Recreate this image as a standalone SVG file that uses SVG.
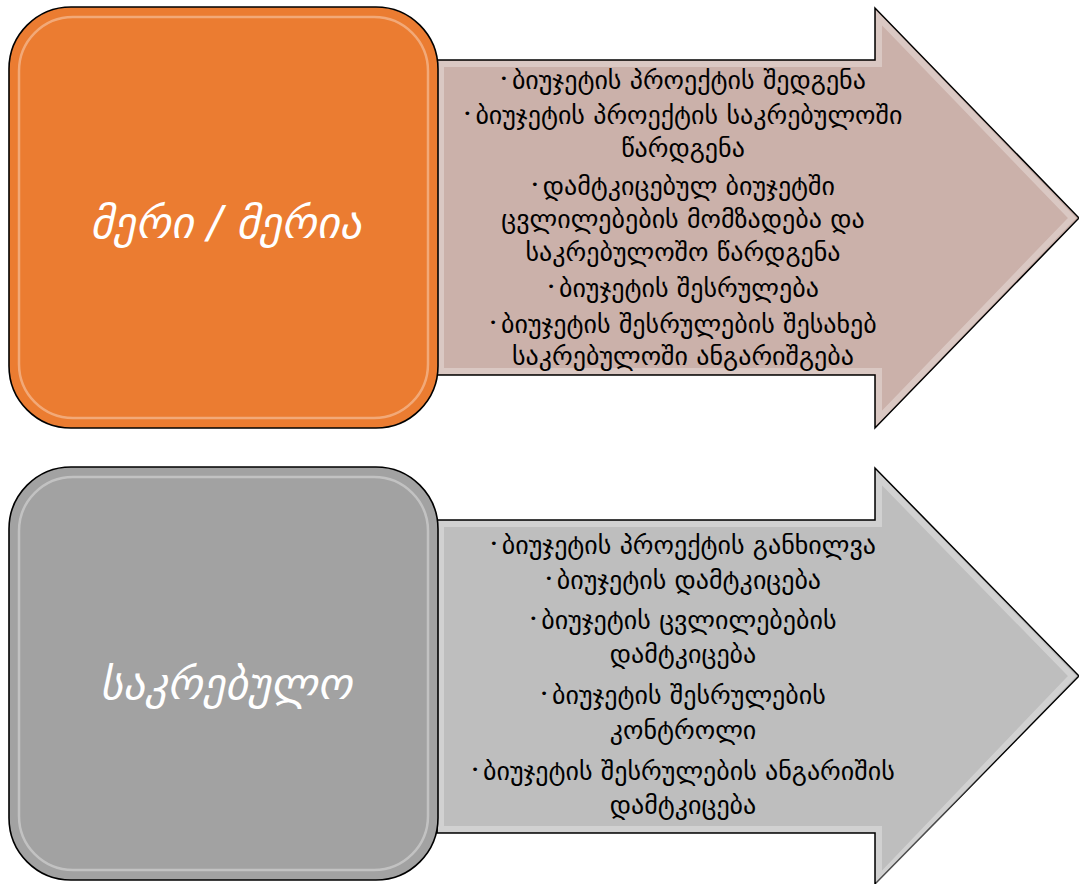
<svg xmlns="http://www.w3.org/2000/svg" width="1079" height="884" viewBox="0 0 1079 884">
<style>
.arrow{stroke:#000;stroke-width:1.5;stroke-linejoin:miter}
.bevel{fill:none;stroke:#ffffff;stroke-opacity:0.3;stroke-width:6}
.box{stroke:#000;stroke-width:1.6}
.hl{fill:none;stroke:#ffffff;stroke-width:2.5;stroke-opacity:0.35}
.title{font-family:"DejaVu Sans",sans-serif;font-style:italic;font-size:44px;fill:#fff;text-anchor:middle}
.item{font-family:"DejaVu Sans",sans-serif;font-size:26px;fill:#000;text-anchor:middle}
.b{font-size:13px}
</style>
<rect width="1079" height="884" fill="#fff"/>
<g id="connectors">
<g id="arrow-top">
<polygon class="arrow" fill="#CBB1AA" points="437,60 875,60 875,8 1079,218 875,428 875,375 437,375"/>
<polygon class="bevel" points="441,64 879,64 879,18 1072,218 879,418 879,371 441,371"/>
</g>
<g id="arrow-bottom">
<polygon class="arrow" fill="#BEBEBE" points="437,520 875,520 875,468 1079,676 875,884 875,833 437,833"/>
<polygon class="bevel" points="441,524 879,524 879,478 1072,676 879,878 879,829 441,829"/>
</g>
</g>
<g id="node-meri">
<rect class="box" x="9" y="7" width="429" height="421" rx="62" fill="#EB7C31"/>
<rect class="hl" x="19" y="17" width="409" height="401" rx="54"/>
<text class="title" x="226" y="238">მერი / მერია</text>
</g>
<g id="node-sakrebulo">
<rect class="box" x="9" y="467" width="429" height="413" rx="62" fill="#A2A2A2"/>
<rect class="hl" x="19" y="477" width="409" height="393" rx="54"/>
<text class="title" x="226" y="699">საკრებულო</text>
</g>
<g id="text-top">
<text class="item" x="683" y="89"><tspan class="b" dy="-6">• </tspan><tspan dy="6">ბიუჯეტის პროექტის შედგენა</tspan></text>
<text class="item" x="683" y="124"><tspan class="b" dy="-6">• </tspan><tspan dy="6">ბიუჯეტის პროექტის საკრებულოში</tspan></text>
<text class="item" x="683" y="157">წარდგენა</text>
<text class="item" x="683" y="195"><tspan class="b" dy="-6">• </tspan><tspan dy="6">დამტკიცებულ ბიუჯეტში</tspan></text>
<text class="item" x="683" y="228">ცვლილებების მომზადება და</text>
<text class="item" x="683" y="261">საკრებულოშო წარდგენა</text>
<text class="item" x="683" y="297"><tspan class="b" dy="-6">• </tspan><tspan dy="6">ბიუჯეტის შესრულება</tspan></text>
<text class="item" x="683" y="333"><tspan class="b" dy="-6">• </tspan><tspan dy="6">ბიუჯეტის შესრულების შესახებ</tspan></text>
<text class="item" x="683" y="365">საკრებულოში ანგარიშგება</text>
</g>
<g id="text-bottom">
<text class="item" x="683" y="554"><tspan class="b" dy="-6">• </tspan><tspan dy="6">ბიუჯეტის პროექტის განხილვა</tspan></text>
<text class="item" x="683" y="589"><tspan class="b" dy="-6">• </tspan><tspan dy="6">ბიუჯეტის დამტკიცება</tspan></text>
<text class="item" x="683" y="629"><tspan class="b" dy="-6">• </tspan><tspan dy="6">ბიუჯეტის ცვლილებების</tspan></text>
<text class="item" x="683" y="663">დამტკიცება</text>
<text class="item" x="683" y="704"><tspan class="b" dy="-6">• </tspan><tspan dy="6">ბიუჯეტის შესრულების</tspan></text>
<text class="item" x="683" y="739">კონტროლი</text>
<text class="item" x="683" y="780"><tspan class="b" dy="-6">• </tspan><tspan dy="6">ბიუჯეტის შესრულების ანგარიშის</tspan></text>
<text class="item" x="683" y="814">დამტკიცება</text>
</g>
</svg>
